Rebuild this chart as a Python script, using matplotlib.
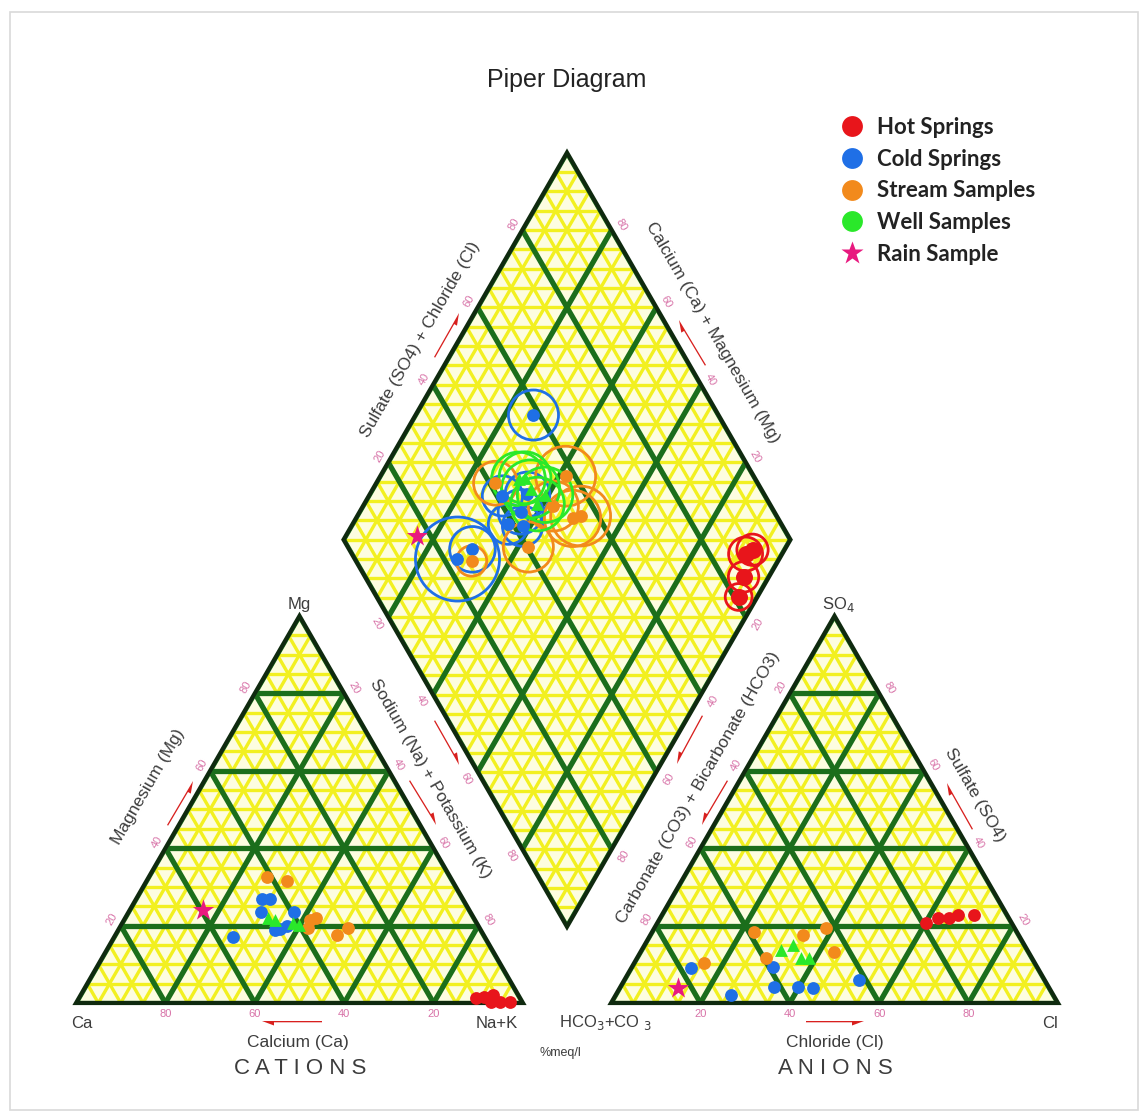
import numpy as np
import matplotlib.pyplot as plt
from matplotlib.patches import Polygon, Circle, Rectangle
from matplotlib.collections import LineCollection
from matplotlib.lines import Line2D

# ---- values, % meq/l ----
# cation triangle (Mg, Na+K; Ca is the rest)
hot_cat_mg = [1.3, 1.6, 2.1, 0.3, 0.3, 0.3]
hot_cat_nak = [88.9, 90.5, 92.3, 92.7, 94.6, 96.9]
cold_cat_mg = [26.9, 26.9, 23.6, 23.6, 18.9, 19.2, 19.9, 17.1]
cold_cat_nak = [28.2, 30.0, 29.5, 36.9, 35.1, 36.1, 37.3, 26.5]
stream_cat_mg = [32.6, 31.6, 21.5, 22.0, 19.4, 17.6, 19.4]
stream_cat_nak = [26.5, 31.5, 41.7, 42.6, 42.3, 49.7, 51.1]
well_cat_mg = [22.0, 21.5, 20.7, 20.2]
well_cat_nak = [32.0, 33.8, 38.3, 39.7]
rain_cat_mg = [24.1]
rain_cat_nak = [16.3]

# anion triangle (SO4, Cl; HCO3+CO3 is the rest)
hot_an_so4 = [20.7, 22.0, 22.0, 22.7, 22.7]
hot_an_cl = [60.1, 62.2, 64.6, 66.3, 69.8]
cold_an_so4 = [9.0, 9.3, 4.1, 4.1, 3.9, 5.9, 2.1]
cold_an_cl = [13.4, 31.5, 34.4, 39.7, 43.3, 52.5, 25.8]
stream_an_so4 = [18.3, 17.6, 19.4, 13.2, 11.6, 10.3]
stream_an_cl = [22.8, 34.2, 38.4, 43.3, 28.9, 15.6]
well_an_so4 = [13.7, 15.0, 11.6, 11.6]
well_an_cl = [31.2, 33.2, 36.7, 38.5]
rain_an_so4 = [3.9]
rain_an_cl = [13.1]

# diamond (Na+K, SO4+Cl) and the bubble size (radius, % units)
hot_dia_nak = [91.8, 92.8, 94.3, 95.8]
hot_dia_so4cl = [88.1, 90.2, 84.7, 81.0]
hot_dia_size = [3.8, 3.5, 3.4, 3.0]
cold_dia_nak = [26.4, 29.9, 35.3, 36.0, 34.9, 38.3, 28.0, 30.1]
cold_dia_so4cl = [58.6, 41.2, 47.0, 43.2, 38.9, 41.8, 23.0, 27.6]
cold_dia_size = [5.6, 4.5, 5.0, 5.0, 4.5, 4.5, 9.4, 5.1]
stream_dia_nak = [26.7, 41.5, 50.0, 42.6, 42.3, 31.4, 48.5]
stream_dia_so4cl = [41.3, 57.9, 56.1, 51.3, 40.4, 25.9, 54.0]
stream_dia_size = [4.9, 6.7, 6.7, 5.6, 5.6, 3.4, 6.3]
well_dia_nak = [31.3, 38.8, 35.3, 32.6, 39.3]
well_dia_so4cl = [47.0, 48.0, 48.4, 48.6, 50.9]
well_dia_size = [6.0, 6.0, 6.5, 5.8, 6.2]
rain_dia_nak = [15.9]
rain_dia_so4cl = [16.8]

ticks = [20, 40, 60, 80]

RED, BLUE, ORANGE, GREEN, PINK = '#e8151b', '#1f6fe6', '#f28a1c', '#2ae82a', '#e8197f'
GRAY = '#3c3c3c'
TICKC = '#d873a8'

# geometry in pixels
L = 447.0
H = L * np.sqrt(3) / 2
XL, XR, BASE = 76.0, 611.0, 1003.0


def cation_xy(mg, nak):
    mg, nak = np.asarray(mg, float), np.asarray(nak, float)
    return XL + L * (nak + mg / 2) / 100, BASE - H * mg / 100


def anion_xy(so4, cl):
    so4, cl = np.asarray(so4, float), np.asarray(cl, float)
    return XR + L * (cl + so4 / 2) / 100, BASE - H * so4 / 100


def diamond_xy(nak, so4cl):
    xa = XL + L * np.asarray(nak, float) / 100
    xb = XR + L * np.asarray(so4cl, float) / 100
    return (xa + xb) / 2, BASE - (xb - xa) * np.sqrt(3) / 2


fig = plt.figure(figsize=(11.43, 11.16), dpi=100)
ax = fig.add_axes([0, 0, 1, 1])
ax.set_xlim(0, 1143)
ax.set_ylim(1116, 0)
ax.axis('off')
fig.patches.append(Rectangle((10 / 1143, 6 / 1116), 1128 / 1143, 1098 / 1116,
                             transform=fig.transFigure, fill=False,
                             edgecolor='#d9d9d9', lw=1.2))

tri_l = [cation_xy(0, 0), cation_xy(0, 100), cation_xy(100, 0)]
tri_r = [anion_xy(0, 0), anion_xy(0, 100), anion_xy(100, 0)]
dia = [diamond_xy(100, 0), diamond_xy(0, 0), diamond_xy(0, 100), diamond_xy(100, 100)]


def grid(origin, pct, clip, color, lw, dirs, z):
    ox, oy = origin
    sw = L * pct / 100
    sh = H * pct / 100
    T = 1400
    segs = []
    n = int(300 / pct)
    for k in range(-n, n + 1):
        if 'h' in dirs:
            segs.append([(ox - 800, oy - k * sh), (ox + 1400, oy - k * sh)])
        px = ox + k * sw
        if 'a' in dirs:
            segs.append([(px - 0.5 * T, oy + H / L * T), (px + 0.5 * T, oy - H / L * T)])
        if 'b' in dirs:
            segs.append([(px + 0.5 * T, oy + H / L * T), (px - 0.5 * T, oy - H / L * T)])
    lc = LineCollection(segs, colors=color, linewidths=lw, zorder=z, capstyle='butt')
    ax.add_collection(lc)
    lc.set_clip_path(clip)


for verts, dirs in [(tri_l, 'hab'), (tri_r, 'hab'), (dia, 'ab')]:
    shape = Polygon(verts, closed=True, facecolor='#fdfde0', edgecolor='none', zorder=1)
    ax.add_patch(shape)
    grid(verts[0], 5, shape, '#f2f020', 2.4, 'hab', 2)
    grid(verts[0], 20, shape, '#1b6e1b', 3.8, dirs, 3)
    ax.add_patch(Polygon(verts, closed=True, fill=False, edgecolor='#0f2a0f',
                         lw=3.0, joinstyle='miter', zorder=4))


# ---- tick labels ----
def tick(x, y, s, rot):
    ax.text(x, y, s, color=TICKC, fontsize=8, rotation=rot, ha='center', va='center',
            family='Liberation Sans', zorder=6)


nrm_l = np.array([-0.866, -0.5])
nrm_r = np.array([0.866, -0.5])
for t in ticks:
    x, y = cation_xy(0, 100 - t)                     # Ca along bottom
    tick(x, y + 11, str(t), 0)
    x, y = cation_xy(t, 0)                           # Mg along left edge
    tick(x + nrm_l[0] * 10, y + nrm_l[1] * 10 - 1, str(t), 60)
    x, y = cation_xy(100 - t, t)                     # Na+K along right edge
    tick(x + nrm_r[0] * 11, y + nrm_r[1] * 11, str(t), -60)
    x, y = anion_xy(0, t)                            # Cl along bottom
    tick(x, y + 11, str(t), 0)
    x, y = anion_xy(100 - t, 0)                      # HCO3 along left edge
    tick(x + nrm_l[0] * 10, y + nrm_l[1] * 10 - 1, str(t), 60)
    x, y = anion_xy(t, 100 - t)                      # SO4 along right edge
    tick(x + nrm_r[0] * 11, y + nrm_r[1] * 11, str(t), -60)
    x, y = diamond_xy(0, t)                          # SO4+Cl upper left
    tick(x + nrm_l[0] * 10, y + nrm_l[1] * 10 - 1, str(t), 60)
    x, y = diamond_xy(100 - t, 100)                  # Ca+Mg upper right
    tick(x + nrm_r[0] * 11, y + nrm_r[1] * 11, str(t), -60)
    x, y = diamond_xy(t, 0)                          # Na+K lower left
    tick(x - 0.866 * 13, y + 0.5 * 13, str(t), -60)
    x, y = diamond_xy(100, 100 - t)                  # HCO3 lower right
    tick(x + 0.866 * 14, y + 0.5 * 14, str(t), 60)


def label(x, y, s, rot=0, size=12.5, color=GRAY, **kw):
    ax.text(x, y, s, color=color, fontsize=size, rotation=rot, ha='center', va='center',
            family='Liberation Sans', rotation_mode='anchor', zorder=6, **kw)


def arrow(x0, y0, x1, y1, side):
    ax.arrow(x0, y0, x1 - x0, y1 - y0, width=2.6, head_width=9, head_length=12,
             shape=side, length_includes_head=True, color='#d8201e', lw=0, zorder=6)


label(567, 80, 'Piper Diagram', size=18, color='#222222')
label(82, 1023, 'Ca', size=12)
label(497, 1023, 'Na+K', size=12)
label(299, 605, 'Mg', size=12)
label(838, 605, r'SO$_4$', size=12)
label(605, 1023, r'HCO$_3$+CO $_3$', size=12)
label(1050, 1023, 'Cl', size=12)
label(298, 1043, 'Calcium (Ca)')
label(835, 1043, 'Chloride (Cl)')
label(300, 1069, 'C A T I O N S', size=16)
label(835, 1069, 'A N I O N S', size=16)
label(560, 1053, '%meq/l', size=9)

label(148, 787, 'Magnesium (Mg)', rot=60)
label(430, 779, 'Sodium (Na) + Potassium (K)', rot=-60)
label(420, 340, 'Sulfate (SO4) + Chloride (Cl)', rot=60)
label(713, 332, 'Calcium (Ca) + Magnesium (Mg)', rot=-60)
label(698, 788, 'Carbonate (CO3) + Bicarbonate (HCO3)', rot=60)
label(975, 795, 'Sulfate (SO4)', rot=-60)

arrow(322, 1021, 262, 1021, 'left')
arrow(806, 1021, 864, 1021, 'right')
arrow(167, 825, 193, 781, 'right')
arrow(409, 781, 436, 825, 'left')
arrow(434, 721, 459, 765, 'left')
arrow(434, 357, 459, 313, 'right')
arrow(706, 365, 679, 320, 'left')
arrow(703, 716, 677, 764, 'right')
arrow(728, 781, 702, 825, 'right')
arrow(973, 829, 947, 783, 'left')

# ---- samples ----
dot = 85
groups = [
    (RED, 'o', hot_cat_mg, hot_cat_nak, hot_an_so4, hot_an_cl),
    (BLUE, 'o', cold_cat_mg, cold_cat_nak, cold_an_so4, cold_an_cl),
    (ORANGE, 'o', stream_cat_mg, stream_cat_nak, stream_an_so4, stream_an_cl),
    (GREEN, '^', well_cat_mg, well_cat_nak, well_an_so4, well_an_cl),
    (PINK, '*', rain_cat_mg, rain_cat_nak, rain_an_so4, rain_an_cl),
]
for col, mk, cmg, cnak, aso4, acl in groups:
    s = 260 if mk == '*' else dot
    x, y = cation_xy(cmg, cnak)
    ax.scatter(x, y, s=s, color=col, marker=mk, lw=0, zorder=8)
    x, y = anion_xy(aso4, acl)
    ax.scatter(x, y, s=s, color=col, marker=mk, lw=0, zorder=8)

rings = [
    (RED, hot_dia_nak, hot_dia_so4cl, hot_dia_size),
    (BLUE, cold_dia_nak, cold_dia_so4cl, cold_dia_size),
    (ORANGE, stream_dia_nak, stream_dia_so4cl, stream_dia_size),
    (GREEN, well_dia_nak, well_dia_so4cl, well_dia_size),
]
for col, nak, so4cl, size in rings:
    x, y = diamond_xy(nak, so4cl)
    for xi, yi, r in zip(x, y, size):
        ax.add_patch(Circle((xi, yi), r * L / 100, fill=False, edgecolor=col, lw=2.0, zorder=7))
    mk = '^' if col == GREEN else 'o'
    ax.scatter(x, y, s=150 if col == RED else dot, color=col, marker=mk, lw=0, zorder=8)
x, y = diamond_xy(rain_dia_nak, rain_dia_so4cl)
ax.scatter(x, y, s=260, color=PINK, marker='*', lw=0, zorder=8)

# ---- legend ----
handles = [
    Line2D([], [], ls='none', marker='o', ms=15, mfc=RED, mec='none'),
    Line2D([], [], ls='none', marker='o', ms=15, mfc=BLUE, mec='none'),
    Line2D([], [], ls='none', marker='o', ms=15, mfc=ORANGE, mec='none'),
    Line2D([], [], ls='none', marker='o', ms=15, mfc=GREEN, mec='none'),
    Line2D([], [], ls='none', marker='*', ms=17, mfc=PINK, mec='none'),
]
names = ['Hot Springs', 'Cold Springs', 'Stream Samples', 'Well Samples', 'Rain Sample']
leg = ax.legend(handles, names, loc='upper left', bbox_to_anchor=(830, 106),
                bbox_transform=ax.transData, frameon=False, handlelength=1.0,
                handletextpad=0.6, labelspacing=0.48, borderpad=0,
                prop={'family': 'Lato', 'size': 16, 'weight': 'bold'})
for t in leg.get_texts():
    t.set_color('#222222')

fig.savefig('out.png', dpi=100)
